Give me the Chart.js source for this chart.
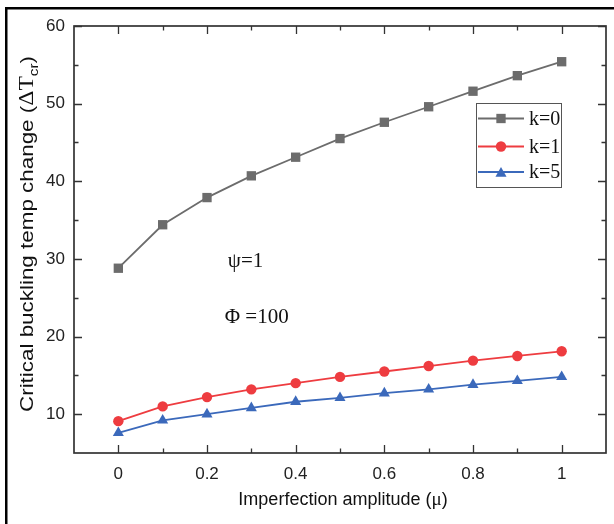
<!DOCTYPE html>
<html>
<head>
<meta charset="utf-8">
<script src="https://cdn.jsdelivr.net/npm/chart.js@4.4.0/dist/chart.umd.min.js"></script>
<style>
  html, body { margin: 0; padding: 0; background: #fff; }
  #wrap { width: 614px; height: 524px; }
</style>
</head>
<body>
<div id="wrap"><canvas id="chart" width="614" height="524"></canvas></div>
<script>
// Datos
const mu = [0, 0.1, 0.2, 0.3, 0.4, 0.5, 0.6, 0.7, 0.8, 0.9, 1];
const k0 = [28.8, 34.4, 37.9, 40.7, 43.1, 45.5, 47.6, 49.6, 51.6, 53.6, 55.4];
const k1 = [9.1, 11.0, 12.2, 13.2, 14.0, 14.8, 15.5, 16.2, 16.9, 17.5, 18.1];
const k5 = [7.6, 9.2, 10.0, 10.8, 11.6, 12.1, 12.7, 13.2, 13.8, 14.3, 14.8];
const seriesLabels = ['k=0', 'k=1', 'k=5'];
const xTicks = [0, 0.2, 0.4, 0.6, 0.8, 1];
const xMinor = [0.1, 0.3, 0.5, 0.7, 0.9];
const yTicks = [10, 20, 30, 40, 50, 60];
const yMinor = [15, 25, 35, 45, 55];
const notes = [
  { text: 'ψ=1', x: 0.247, y: 29.0 },
  { text: 'Φ =100', x: 0.240, y: 21.7 }
];

const SANS = '"Liberation Sans", Arial, sans-serif';
const SERIF = '"Liberation Serif", "Times New Roman", serif';
const AXIS = '#333333';

function pts(ys) {
  return mu.map((x, i) => ({ x: x, y: ys[i] }));
}

// Dibuja un texto compuesto por partes con fuentes distintas
function drawParts(ctx, parts, cx, baseY, fitWidth) {
  let total = 0;
  parts.forEach(p => { ctx.font = p.f; total += ctx.measureText(p.t).width; });
  ctx.save();
  ctx.translate(cx, baseY);
  if (fitWidth) ctx.scale(fitWidth / total, 1);
  let x = -total / 2;
  ctx.textAlign = 'left';
  ctx.textBaseline = 'alphabetic';
  parts.forEach(p => {
    ctx.font = p.f;
    ctx.fillText(p.t, x, p.dy || 0);
    x += ctx.measureText(p.t).width;
  });
  ctx.restore();
}

const decor = {
  id: 'decor',
  beforeDraw(chart) {
    const ctx = chart.ctx;
    ctx.save();
    ctx.fillStyle = '#fff';
    ctx.fillRect(0, 0, chart.width, chart.height);
    // marco exterior
    ctx.fillStyle = '#000';
    ctx.fillRect(5, 7, chart.width - 5, 2.5);
    ctx.fillRect(5, 7, 2.5, chart.height - 7);
    ctx.restore();
  },
  beforeDatasetsDraw(chart) {
    const ctx = chart.ctx;
    const a = chart.chartArea;
    const xs = chart.scales.x, ys = chart.scales.y;
    ctx.save();
    ctx.strokeStyle = AXIS;
    ctx.lineWidth = 1.3;
    const tick = (vals, len) => {
      vals.forEach(v => {
        const px = Math.round(xs.getPixelForValue(v)) + 0.5;
        ctx.beginPath();
        ctx.moveTo(px, a.bottom); ctx.lineTo(px, a.bottom - len);
        ctx.moveTo(px, a.top); ctx.lineTo(px, a.top + len);
        ctx.stroke();
      });
    };
    const tickY = (vals, len) => {
      vals.forEach(v => {
        const py = Math.round(ys.getPixelForValue(v)) + 0.5;
        ctx.beginPath();
        ctx.moveTo(a.left, py); ctx.lineTo(a.left + len, py);
        ctx.moveTo(a.right, py); ctx.lineTo(a.right - len, py);
        ctx.stroke();
      });
    };
    tick(xTicks, 8); tick(xMinor, 4.5);
    tickY(yTicks, 8); tickY(yMinor, 4.5);
    ctx.lineWidth = 1.7;
    ctx.strokeRect(a.left, a.top, a.right - a.left, a.bottom - a.top);
    ctx.restore();
  },
  afterDraw(chart) {
    const ctx = chart.ctx;
    const a = chart.chartArea;
    const xs = chart.scales.x, ys = chart.scales.y;
    ctx.save();

    // leyenda
    ctx.strokeStyle = '#555';
    ctx.lineWidth = 1;
    ctx.strokeRect(476.5, 103.5, 85, 84);
    const rows = [118.5, 146.5, 172];
    chart.data.datasets.forEach((ds, i) => {
      const y = rows[i];
      ctx.strokeStyle = ds.borderColor;
      ctx.lineWidth = ds.borderWidth;
      ctx.beginPath();
      ctx.moveTo(478, y); ctx.lineTo(524, y);
      ctx.stroke();
      ctx.fillStyle = ds.pointBackgroundColor;
      Chart.helpers.drawPoint(ctx, {
        pointStyle: ds.pointStyle, radius: ds.pointRadius, rotation: 0, borderWidth: 0
      }, 501, y + (ds.pointStyle === 'triangle' ? 1.5 : 0));
      ctx.fillStyle = '#111';
      ctx.font = '20px ' + SERIF;
      ctx.textAlign = 'left';
      ctx.textBaseline = 'middle';
      ctx.fillText(ds.label, 529, y + 1);
    });

    // anotaciones
    ctx.fillStyle = '#111';
    ctx.font = '21px ' + SERIF;
    ctx.textAlign = 'left';
    ctx.textBaseline = 'alphabetic';
    notes.forEach(n => {
      ctx.fillText(n.text, xs.getPixelForValue(n.x), ys.getPixelForValue(n.y));
    });

    // título eje x
    ctx.fillStyle = '#111';
    drawParts(ctx, [
      { t: 'Imperfection amplitude (', f: '18px ' + SANS },
      { t: 'μ', f: '19px ' + SERIF },
      { t: ')', f: '18px ' + SANS }
    ], 343, 505);

    // título eje y
    ctx.translate(33, 234);
    ctx.rotate(-Math.PI / 2);
    drawParts(ctx, [
      { t: 'Critical buckling temp change (', f: '19px ' + SANS },
      { t: 'ΔT', f: '20px ' + SERIF },
      { t: 'cr', f: '13px ' + SANS, dy: 5 },
      { t: ')', f: '19px ' + SANS }
    ], 0, 0, 356);
    ctx.restore();
  }
};

const gray = '#6c6c6c', red = '#ee3c40', blue = '#3b69bb';

new Chart(document.getElementById('chart'), {
  type: 'line',
  data: {
    datasets: [
      { label: seriesLabels[0], data: pts(k0), borderColor: gray, pointBackgroundColor: gray,
        pointStyle: 'rect', pointRadius: 6.6, pointBorderWidth: 0, borderWidth: 1.8 },
      { label: seriesLabels[1], data: pts(k1), borderColor: red, pointBackgroundColor: red,
        pointStyle: 'circle', pointRadius: 5.2, pointBorderWidth: 0, borderWidth: 1.8 },
      { label: seriesLabels[2], data: pts(k5), borderColor: blue, pointBackgroundColor: blue,
        pointStyle: 'triangle', pointRadius: 6.4, pointBorderWidth: 0, borderWidth: 1.8 }
    ]
  },
  options: {
    responsive: false,
    animation: false,
    devicePixelRatio: 1,
    layout: { padding: { top: 26, right: 8, left: 0, bottom: 0 } },
    plugins: { legend: { display: false }, tooltip: { enabled: false } },
    elements: { line: { tension: 0 } },
    scales: {
      x: {
        type: 'linear', min: -0.1, max: 1.1,
        afterBuildTicks: s => { s.ticks = xTicks.map(v => ({ value: v })); },
        afterFit: s => { s.height = 71; },
        grid: { display: false, drawTicks: false },
        border: { display: false },
        ticks: { color: '#222', font: { family: SANS, size: 17 }, padding: 11,
                 maxRotation: 0, callback: v => String(v) }
      },
      y: {
        type: 'linear', min: 5, max: 60,
        afterBuildTicks: s => { s.ticks = yTicks.map(v => ({ value: v })); },
        afterFit: s => { s.width = 74; },
        grid: { display: false, drawTicks: false },
        border: { display: false },
        ticks: { color: '#222', font: { family: SANS, size: 17 }, padding: 9,
                 callback: v => String(v) }
      }
    }
  },
  plugins: [decor]
});
</script>
</body>
</html>
